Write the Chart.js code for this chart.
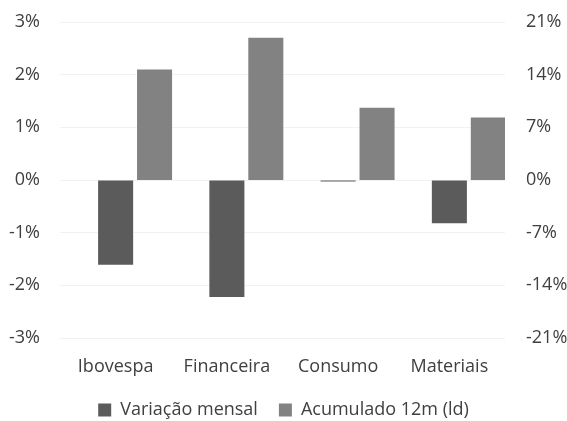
<!DOCTYPE html>
<html>
<head>
<meta charset="utf-8">
<script src="https://cdn.jsdelivr.net/npm/chart.js@4"></script>
<style>
  html, body { margin: 0; padding: 0; background: #fff; }
  #wrap { width: 567px; height: 421px; position: relative; }
</style>
</head>
<body>
<div id="wrap"><canvas id="chart"></canvas></div>
<script>
  const categories = ["Ibovespa", "Financeira", "Consumo", "Materiais"];
  const variacaoMensal = [-1.61, -2.22, -0.03, -0.82];
  const acumulado12m = [14.7, 18.9, 9.6, 8.3];
  const leftTicks = [-3, -2, -1, 0, 1, 2, 3];
  const rightTicks = [-21, -14, -7, 0, 7, 14, 21];

  const textColor = "#404040";
  const font = { family: "'Open Sans', sans-serif", size: 18 };

  // empty spacer slot on the left so the monthly bar sits on the category centre
  const spacer = categories.map(() => null);

  new Chart(document.getElementById("chart"), {
    type: "bar",
    data: {
      labels: categories,
      datasets: [
        {
          label: "",
          data: spacer,
          backgroundColor: "transparent",
          yAxisID: "y",
          categoryPercentage: 1.05,
          barPercentage: 0.9,
        },
        {
          label: "Variação mensal",
          data: variacaoMensal,
          backgroundColor: "#5b5b5b",
          yAxisID: "y",
          categoryPercentage: 1.05,
          barPercentage: 0.9,
        },
        {
          label: "Acumulado 12m (ld)",
          data: acumulado12m,
          backgroundColor: "#828282",
          yAxisID: "y1",
          categoryPercentage: 1.05,
          barPercentage: 0.9,
        },
      ],
    },
    options: {
      responsive: true,
      maintainAspectRatio: false,
      animation: false,
      layout: { padding: { left: 0, right: 0, top: 22, bottom: -8 } },
      plugins: {
        legend: {
          position: "bottom",
          labels: {
            color: textColor,
            font: font,
            boxWidth: 13,
            boxHeight: 13,
            padding: 21,
            filter: (item) => item.text !== "",
          },
        },
        tooltip: { enabled: false },
      },
      scales: {
        x: {
          grid: { display: false },
          border: { display: false },
          ticks: { color: textColor, font: font, padding: 10 },
          afterFit: (scale) => {
            scale.paddingLeft = 0;
            scale.paddingRight = 0;
            scale.height = 42;
          },
        },
        y: {
          position: "left",
          min: leftTicks[0],
          max: leftTicks[leftTicks.length - 1],
          afterBuildTicks: (axis) => {
            axis.ticks = leftTicks.map((v) => ({ value: v }));
          },
          afterFit: (axis) => {
            axis.width = 60;
            axis.paddingTop = 0;
            axis.paddingBottom = 0;
          },
          grid: { color: "#f2f2f2", drawTicks: false },
          border: { display: false },
          ticks: {
            color: textColor,
            font: font,
            padding: 20,
            callback: (v) => v + "%",
          },
        },
        y1: {
          position: "right",
          min: rightTicks[0],
          max: rightTicks[rightTicks.length - 1],
          afterBuildTicks: (axis) => {
            axis.ticks = rightTicks.map((v) => ({ value: v }));
          },
          afterFit: (axis) => {
            axis.width = 62;
            axis.paddingTop = 0;
            axis.paddingBottom = 0;
          },
          grid: { display: false },
          border: { display: false },
          ticks: {
            color: textColor,
            font: font,
            padding: 13,
            callback: (v) => v + "%",
          },
        },
      },
    },
  });
</script>
</body>
</html>
